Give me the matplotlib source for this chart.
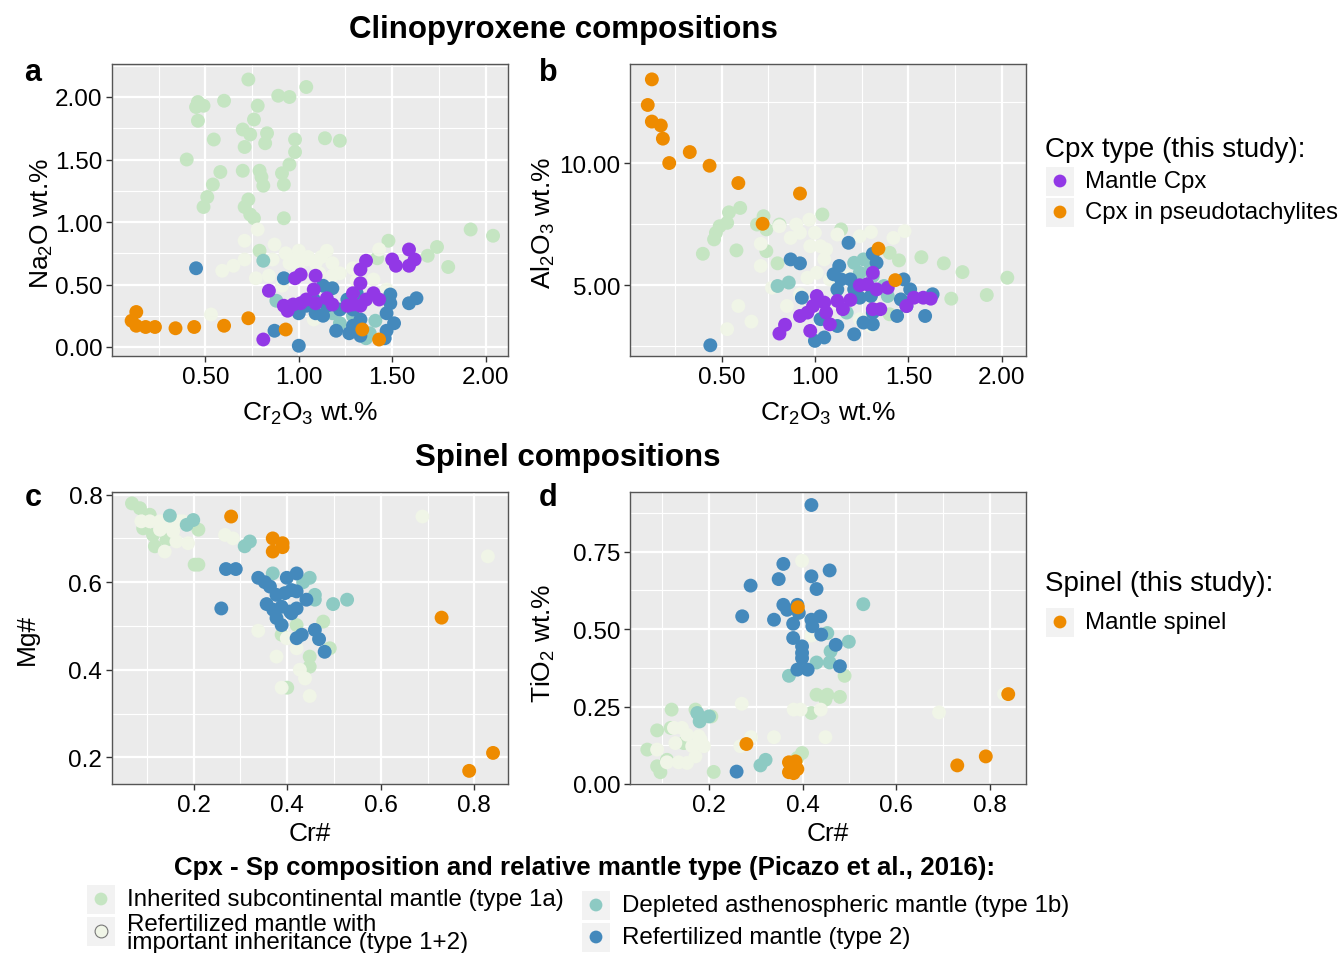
import matplotlib
matplotlib.use("Agg")
import matplotlib.pyplot as plt
from matplotlib.patches import Rectangle
from matplotlib.ticker import MultipleLocator

plt.rcParams['font.family'] = ['Liberation Sans', 'DejaVu Sans']
plt.rcParams['mathtext.fontset'] = 'custom'
plt.rcParams['mathtext.rm'] = 'Liberation Sans'
plt.rcParams['mathtext.it'] = 'Liberation Sans'
plt.rcParams['mathtext.default'] = 'regular'

# ---------------- colours ----------------
C_1A = '#C5E5C2'
C_12 = '#F0F5E7'
C_1B = '#8DCAC3'
C_2 = '#4489BC'
C_MANTLE = '#9238E6'
C_PSEUDO = '#EE8B00'

# ---------------- panel a: Cr2O3 vs Na2O ----------------
a_1a_x = [0.73, 1.04, 0.89, 0.95, 0.46, 0.45, 0.49, 0.46, 0.60, 0.78, 0.76, 0.70, 0.74, 0.83, 0.82, 0.98, 0.98,
          1.14, 1.22, 0.545, 0.71, 0.40, 0.58, 0.70, 0.79, 0.80, 0.81, 0.95, 0.91, 0.92, 0.54, 0.51, 0.49, 0.73,
          0.71, 0.74, 0.76, 0.92, 1.92, 2.04, 1.48, 1.42, 1.74, 1.69, 1.80, 0.79]
a_1a_y = [2.14, 2.08, 2.01, 2.00, 1.96, 1.92, 1.93, 1.81, 1.97, 1.93, 1.82, 1.74, 1.70, 1.71, 1.63, 1.66, 1.56,
          1.67, 1.65, 1.66, 1.60, 1.50, 1.40, 1.41, 1.41, 1.36, 1.29, 1.46, 1.39, 1.30, 1.30, 1.20, 1.12, 1.18,
          1.12, 1.06, 1.03, 1.03, 0.94, 0.89, 0.85, 0.71, 0.80, 0.73, 0.64, 0.77]
a_12_x = [0.78, 0.71, 0.87, 0.59, 0.65, 0.71, 0.77, 0.84, 0.93, 1.00, 0.95, 1.04, 1.09, 1.15, 1.18, 1.22, 1.29,
          1.31, 1.40, 1.43, 1.00, 0.91, 1.08, 0.53, 1.47, 0.86, 1.11, 1.18, 1.05, 0.98, 1.12]
a_12_y = [0.94, 0.85, 0.82, 0.61, 0.65, 0.70, 0.55, 0.57, 0.75, 0.77, 0.67, 0.70, 0.67, 0.77, 0.67, 0.59, 0.63,
          0.53, 0.54, 0.78, 0.62, 0.49, 0.22, 0.26, 0.46, 0.70, 0.59, 0.57, 0.72, 0.71, 0.72]
a_1b_x = [0.81, 0.88, 1.18, 1.22, 1.29, 1.41, 1.36, 1.38]
a_1b_y = [0.69, 0.37, 0.27, 0.19, 0.25, 0.21, 0.07, 0.11]
a_2_x = [0.45, 0.92, 1.13, 1.18, 1.00, 1.09, 1.13, 1.08, 1.04, 1.15, 1.22, 1.26, 1.31, 1.29, 1.33, 1.29, 1.27,
         1.33, 1.49, 1.49, 1.47, 1.51, 1.47, 1.46, 1.59, 1.63, 0.87, 1.20, 1.00]
a_2_y = [0.63, 0.55, 0.49, 0.47, 0.27, 0.27, 0.25, 0.38, 0.33, 0.33, 0.30, 0.38, 0.43, 0.30, 0.22, 0.17, 0.11,
         0.09, 0.42, 0.35, 0.27, 0.19, 0.13, 0.07, 0.35, 0.39, 0.13, 0.13, 0.01]
a_mantle_x = [0.84, 0.98, 1.01, 1.09, 1.08, 0.92, 0.94, 0.97, 1.01, 1.04, 1.09, 1.15, 1.18, 1.26, 1.29, 1.33,
              1.36, 1.40, 1.43, 1.29, 1.33, 1.33, 1.36, 1.50, 1.52, 1.59, 1.59, 1.62, 0.81]
a_mantle_y = [0.45, 0.55, 0.58, 0.57, 0.46, 0.33, 0.29, 0.34, 0.35, 0.38, 0.35, 0.39, 0.34, 0.33, 0.34, 0.33,
              0.38, 0.43, 0.38, 0.43, 0.51, 0.62, 0.69, 0.70, 0.65, 0.65, 0.78, 0.70, 0.06]
a_pseudo_x = [0.13, 0.105, 0.13, 0.18, 0.23, 0.34, 0.44, 0.60, 0.73, 0.93, 1.34, 1.43]
a_pseudo_y = [0.28, 0.21, 0.17, 0.16, 0.16, 0.15, 0.16, 0.17, 0.23, 0.14, 0.14, 0.06]

# ---------------- panel b: Cr2O3 vs Al2O3 ----------------
b_1a_x = [0.40, 0.58, 0.60, 0.54, 0.53, 0.49, 0.47, 0.46, 0.725, 0.69, 0.74, 0.81, 1.04, 1.14, 0.74, 0.80,
          1.40, 1.45, 1.57, 1.69, 1.79, 2.03, 1.73, 1.92, 1.40]
b_1a_y = [6.28, 6.42, 8.16, 7.98, 7.55, 7.41, 7.14, 6.87, 7.82, 7.48, 7.28, 7.48, 7.89, 7.28, 6.39, 5.89,
          6.32, 6.01, 6.14, 5.89, 5.53, 5.30, 4.44, 4.59, 3.80]
b_12_x = [0.71, 0.71, 0.77, 0.59, 0.53, 0.66, 0.85, 0.92, 0.87, 0.92, 0.97, 1.00, 0.975, 1.03, 1.06, 1.12,
          1.24, 1.30, 1.42, 1.48, 1.05, 1.01, 0.96, 1.08, 1.17, 1.28, 1.31, 1.21, 1.10, 1.30, 1.24, 0.81, 0.90]
b_12_y = [6.69, 5.78, 4.89, 4.14, 3.19, 3.50, 4.14, 4.62, 6.93, 7.14, 7.68, 7.14, 6.59, 6.59, 6.46, 7.07,
          7.00, 7.17, 6.93, 7.21, 6.05, 5.50, 5.30, 5.23, 5.37, 4.96, 4.41, 4.69, 4.28, 3.32, 3.60, 7.41, 7.48]
b_1b_x = [0.86, 0.80, 1.21, 1.26, 1.30, 1.24, 1.31, 1.37, 1.39, 1.22, 1.17]
b_1b_y = [5.10, 4.96, 5.91, 6.05, 5.78, 5.50, 5.37, 4.96, 4.55, 4.69, 3.87]
b_2_x = [0.44, 0.87, 0.92, 1.18, 1.31, 1.33, 1.13, 1.10, 1.14, 1.19, 1.12, 1.21, 1.24, 1.30, 1.31, 1.26,
         1.31, 1.21, 1.05, 1.00, 1.12, 1.03, 1.475, 1.51, 1.46, 1.49, 1.44, 1.63, 1.59, 0.93]
b_2_y = [2.53, 6.05, 5.89, 6.73, 6.28, 5.91, 5.78, 5.44, 5.23, 5.23, 4.82, 4.82, 4.48, 4.55, 3.87, 3.46,
         3.39, 2.98, 2.85, 2.71, 3.32, 3.60, 5.23, 4.82, 4.41, 4.14, 3.73, 4.62, 3.73, 4.48]
b_mantle_x = [0.81, 0.84, 0.92, 0.96, 1.01, 0.99, 1.05, 1.06, 0.975, 1.08, 1.12, 1.15, 1.19, 1.31, 1.28,
              1.24, 1.33, 1.39, 1.31, 1.35, 1.49, 1.53, 1.58, 1.62]
b_mantle_y = [3.01, 3.37, 3.73, 3.87, 4.55, 4.14, 4.28, 3.87, 3.12, 3.39, 4.35, 4.01, 4.39, 5.50, 5.03,
              4.99, 4.82, 4.89, 4.01, 4.01, 4.14, 4.48, 4.48, 4.44]
b_pseudo_x = [0.127, 0.105, 0.127, 0.175, 0.186, 0.22, 0.33, 0.436, 0.59, 0.92, 0.72, 1.34, 1.43]
b_pseudo_y = [13.43, 12.38, 11.70, 11.54, 11.00, 10.00, 10.45, 9.89, 9.18, 8.75, 7.51, 6.49, 5.20]

# ---------------- panel c: Cr# vs Mg# (spinel) ----------------
c_1a_x = [0.068, 0.085, 0.106, 0.092, 0.113, 0.117, 0.142, 0.202, 0.21, 0.21, 0.42, 0.388, 0.477, 0.491,
          0.448, 0.448, 0.40]
c_1a_y = [0.780, 0.769, 0.754, 0.723, 0.708, 0.682, 0.697, 0.640, 0.640, 0.720, 0.502, 0.480, 0.510, 0.449,
          0.430, 0.407, 0.359]
c_12_x = [0.088, 0.106, 0.128, 0.149, 0.170, 0.177, 0.128, 0.156, 0.163, 0.188, 0.138, 0.267, 0.284, 0.338,
          0.377, 0.399, 0.42, 0.427, 0.438, 0.388, 0.448, 0.689, 0.829]
c_12_y = [0.739, 0.739, 0.739, 0.731, 0.739, 0.739, 0.720, 0.716, 0.693, 0.689, 0.670, 0.708, 0.700, 0.489,
          0.430, 0.472, 0.449, 0.400, 0.380, 0.359, 0.340, 0.750, 0.659]
c_1b_x = [0.149, 0.199, 0.185, 0.309, 0.320, 0.369, 0.448, 0.459, 0.459, 0.498, 0.528, 0.434]
c_1b_y = [0.752, 0.742, 0.731, 0.682, 0.693, 0.620, 0.610, 0.571, 0.560, 0.550, 0.560, 0.600]
c_2_x = [0.269, 0.29, 0.259, 0.338, 0.352, 0.363, 0.399, 0.42, 0.377, 0.395, 0.409, 0.42, 0.441, 0.356,
         0.37, 0.388, 0.406, 0.42, 0.377, 0.388, 0.409, 0.42, 0.431, 0.459, 0.468, 0.48]
c_2_y = [0.630, 0.630, 0.540, 0.610, 0.600, 0.590, 0.610, 0.620, 0.571, 0.575, 0.582, 0.579, 0.560, 0.550,
         0.537, 0.544, 0.533, 0.540, 0.518, 0.502, 0.529, 0.472, 0.480, 0.491, 0.470, 0.441]
c_sp_x = [0.28, 0.369, 0.39, 0.369, 0.39, 0.73, 0.789, 0.84]
c_sp_y = [0.750, 0.700, 0.689, 0.670, 0.680, 0.519, 0.169, 0.210]

# ---------------- panel d: Cr# vs TiO2 (spinel) ----------------
d_1a_x = [0.12, 0.171, 0.205, 0.089, 0.118, 0.068, 0.11, 0.089, 0.096, 0.21, 0.399, 0.389, 0.43, 0.453,
          0.449, 0.48, 0.49, 0.419, 0.146]
d_1a_y = [0.240, 0.240, 0.218, 0.173, 0.181, 0.111, 0.078, 0.057, 0.038, 0.039, 0.100, 0.084, 0.288, 0.288,
          0.272, 0.281, 0.349, 0.229, 0.132]
d_12_x = [0.399, 0.419, 0.27, 0.381, 0.396, 0.439, 0.449, 0.692, 0.831, 0.339, 0.29, 0.267, 0.125, 0.142,
          0.153, 0.178, 0.189, 0.171, 0.153, 0.135, 0.11, 0.089, 0.128, 0.164, 0.182]
d_12_y = [0.720, 0.479, 0.259, 0.240, 0.240, 0.240, 0.151, 0.231, 0.290, 0.151, 0.151, 0.122, 0.181, 0.181,
          0.159, 0.154, 0.122, 0.089, 0.068, 0.070, 0.070, 0.111, 0.132, 0.122, 0.143]
d_1b_x = [0.53, 0.499, 0.453, 0.46, 0.43, 0.458, 0.371, 0.18, 0.20, 0.175, 0.31, 0.321]
d_1b_y = [0.580, 0.459, 0.487, 0.428, 0.392, 0.392, 0.349, 0.202, 0.218, 0.229, 0.060, 0.078]
d_2_x = [0.419, 0.359, 0.458, 0.419, 0.43, 0.349, 0.289, 0.359, 0.367, 0.389, 0.392, 0.339, 0.271, 0.38,
         0.419, 0.438, 0.421, 0.44, 0.38, 0.471, 0.399, 0.399, 0.399, 0.389, 0.411, 0.48, 0.259]
d_2_y = [0.900, 0.710, 0.689, 0.670, 0.629, 0.661, 0.640, 0.578, 0.562, 0.578, 0.552, 0.530, 0.541, 0.517,
         0.530, 0.541, 0.509, 0.482, 0.471, 0.449, 0.444, 0.423, 0.406, 0.369, 0.369, 0.380, 0.040]
d_sp_x = [0.39, 0.28, 0.371, 0.389, 0.371, 0.381, 0.378, 0.385, 0.731, 0.792, 0.84]
d_sp_y = [0.570, 0.129, 0.070, 0.048, 0.038, 0.035, 0.057, 0.073, 0.060, 0.089, 0.290]

# ---------------- labels ----------------
title_cpx = "Clinopyroxene compositions"
title_sp = "Spinel compositions"
legend_cpx_title = "Cpx type (this study):"
legend_cpx_labels = ["Mantle Cpx", "Cpx in pseudotachylites"]
legend_sp_title = "Spinel (this study):"
legend_sp_labels = ["Mantle spinel"]
legend_type_title = "Cpx - Sp composition and relative mantle type (Picazo et al., 2016):"
legend_type_labels = ["Inherited subcontinental mantle (type 1a)",
                      "Refertilized mantle with\nimportant inheritance (type 1+2)",
                      "Depleted asthenospheric mantle (type 1b)",
                      "Refertilized mantle (type 2)"]

W, H = 1342, 954
fig = plt.figure(figsize=(W / 100, H / 100), dpi=100)
fig.patch.set_facecolor('white')

MS = 100
TICK_FS = 17.5
LAB_FS = 19


def px_axes(l, t, r, b):
    return fig.add_axes([l / W, 1 - b / H, (r - l) / W, (b - t) / H])


def style(ax, xmaj, ymaj, fmt_x, fmt_y):
    ax.set_facecolor('#EBEBEB')
    ax.xaxis.set_major_locator(MultipleLocator(xmaj))
    ax.xaxis.set_minor_locator(MultipleLocator(xmaj / 2))
    ax.yaxis.set_major_locator(MultipleLocator(ymaj))
    ax.yaxis.set_minor_locator(MultipleLocator(ymaj / 2))
    ax.grid(which='major', color='white', lw=1.6, zorder=0)
    ax.grid(which='minor', color='white', lw=0.8, zorder=0)
    ax.set_axisbelow(True)
    ax.tick_params(which='major', length=4, width=1, color='#333333', labelsize=TICK_FS,
                   labelcolor='black', pad=3)
    ax.tick_params(which='minor', length=0)
    ax.xaxis.set_major_formatter(plt.FuncFormatter(lambda v, p: fmt_x.format(v)))
    ax.yaxis.set_major_formatter(plt.FuncFormatter(lambda v, p: fmt_y.format(v)))
    for s in ax.spines.values():
        s.set_color('#555555')
        s.set_linewidth(1.0)


def pts(ax, x, y, c):
    ax.scatter(x, y, s=MS, c=c, edgecolors='none', zorder=3)


PANEL_H = 292.0

# panel a
axa = px_axes(112, 65, 508, 357)
style(axa, 0.5, 0.5, "{:.2f}", "{:.2f}")
for xx, yy, cc in [(a_1a_x, a_1a_y, C_1A), (a_12_x, a_12_y, C_12), (a_1b_x, a_1b_y, C_1B),
                   (a_2_x, a_2_y, C_2), (a_mantle_x, a_mantle_y, C_MANTLE), (a_pseudo_x, a_pseudo_y, C_PSEUDO)]:
    pts(axa, xx, yy, cc)
axa.set_xlim(0.0, 2.12)
axa.set_ylim(-0.072, 2.264)
axa.set_xticks([0.5, 1.0, 1.5, 2.0])
axa.set_xlabel("Cr$_2$O$_3$ wt.%", fontsize=LAB_FS, labelpad=9)
axa.set_ylabel("Na$_2$O wt.%", fontsize=LAB_FS)
axa.yaxis.set_label_coords((55 - 112) / 396, (357 - 224) / PANEL_H)

# panel b
axb = px_axes(630, 65, 1026, 357)
style(axb, 0.5, 5.0, "{:.2f}", "{:.2f}")
for xx, yy, cc in [(b_1a_x, b_1a_y, C_1A), (b_12_x, b_12_y, C_12), (b_1b_x, b_1b_y, C_1B),
                   (b_2_x, b_2_y, C_2), (b_mantle_x, b_mantle_y, C_MANTLE), (b_pseudo_x, b_pseudo_y, C_PSEUDO)]:
    pts(axb, xx, yy, cc)
axb.set_xlim(0.01, 2.13)
axb.set_ylim(2.09, 14.06)
axb.set_xticks([0.5, 1.0, 1.5, 2.0])
axb.set_yticks([5.0, 10.0])
axb.set_xlabel("Cr$_2$O$_3$ wt.%", fontsize=LAB_FS, labelpad=9)
axb.set_ylabel("Al$_2$O$_3$ wt.%", fontsize=LAB_FS)
axb.yaxis.set_label_coords((557 - 630) / 396, (357 - 223) / PANEL_H)

# panel c
axc = px_axes(112, 493, 508, 785)
style(axc, 0.2, 0.2, "{:.1f}", "{:.1f}")
for xx, yy, cc in [(c_1a_x, c_1a_y, C_1A), (c_12_x, c_12_y, C_12), (c_1b_x, c_1b_y, C_1B),
                   (c_2_x, c_2_y, C_2), (c_sp_x, c_sp_y, C_PSEUDO)]:
    pts(axc, xx, yy, cc)
axc.set_xlim(0.0253, 0.872)
axc.set_ylim(0.139, 0.806)
axc.set_xticks([0.2, 0.4, 0.6, 0.8])
axc.set_yticks([0.2, 0.4, 0.6, 0.8])
axc.set_xlabel("Cr#", fontsize=LAB_FS, labelpad=4)
axc.set_ylabel("Mg#", fontsize=LAB_FS)
axc.yaxis.set_label_coords((39 - 112) / 396, (785 - 639) / PANEL_H)

# panel d
axd = px_axes(630, 493, 1026, 785)
style(axd, 0.2, 0.25, "{:.1f}", "{:.2f}")
for xx, yy, cc in [(d_1a_x, d_1a_y, C_1A), (d_12_x, d_12_y, C_12), (d_1b_x, d_1b_y, C_1B),
                   (d_2_x, d_2_y, C_2), (d_sp_x, d_sp_y, C_PSEUDO)]:
    pts(axd, xx, yy, cc)
axd.set_xlim(0.0310, 0.878)
axd.set_ylim(0.0, 0.942)
axd.set_xticks([0.2, 0.4, 0.6, 0.8])
axd.set_yticks([0.0, 0.25, 0.5, 0.75])
axd.set_xlabel("Cr#", fontsize=LAB_FS, labelpad=4)
axd.set_ylabel("TiO$_2$ wt.%", fontsize=LAB_FS)
axd.yaxis.set_label_coords((557 - 630) / 396, (785 - 643) / PANEL_H)

# ---------------- overlay for titles and legends (pixel coords) ----------------
ov = fig.add_axes([0, 0, 1, 1], zorder=-1)
ov.set_xlim(0, W)
ov.set_ylim(H, 0)
ov.axis('off')

ov.text(563, 30, title_cpx, fontsize=22.5, fontweight='bold', ha='center', va='center')
ov.text(568, 458, title_sp, fontsize=22.5, fontweight='bold', ha='center', va='center')
for lt, lx, ly in [("a", 33, 73), ("b", 548, 73), ("c", 33, 498), ("d", 548, 498)]:
    ov.text(lx, ly, lt, fontsize=22, fontweight='bold', ha='center', va='center')


def key(x, y, color, edge='none'):
    ov.add_patch(Rectangle((x - 14, y - 14), 28, 29, facecolor='#F2F2F2', edgecolor='none'))
    ov.scatter([x], [y], s=85, c=color, edgecolors=edge, linewidths=0.8, zorder=3)


# right legend: Cpx type
ov.text(1045, 150, legend_cpx_title, fontsize=20, ha='left', va='center')
for lab, col, yy in zip(legend_cpx_labels, [C_MANTLE, C_PSEUDO], [182, 213]):
    key(1060, yy, col)
    ov.text(1085, yy, lab, fontsize=17.3, ha='left', va='center')

# right legend: spinel
ov.text(1045, 584, legend_sp_title, fontsize=20, ha='left', va='center')
key(1060, 623, C_PSEUDO)
ov.text(1085, 623, legend_sp_labels[0], fontsize=17.3, ha='left', va='center')

# bottom legend
ov.text(585, 868, legend_type_title, fontsize=18.6, fontweight='bold', ha='center', va='center')
bottom_items = [(101, 900, C_1A, 'none'), (101, 932, C_12, '#777777'),
                (596, 906, C_1B, 'none'), (596, 938, C_2, 'none')]
for (kx, ky, col, ed), lab in zip(bottom_items, legend_type_labels):
    key(kx, ky, col, ed)
    ov.text(kx + 26, ky + (2 if '\n' in lab else 0), lab, fontsize=17.4, ha='left', va='center',
            linespacing=0.8)

fig.savefig("out.png", dpi=100, facecolor='white')
